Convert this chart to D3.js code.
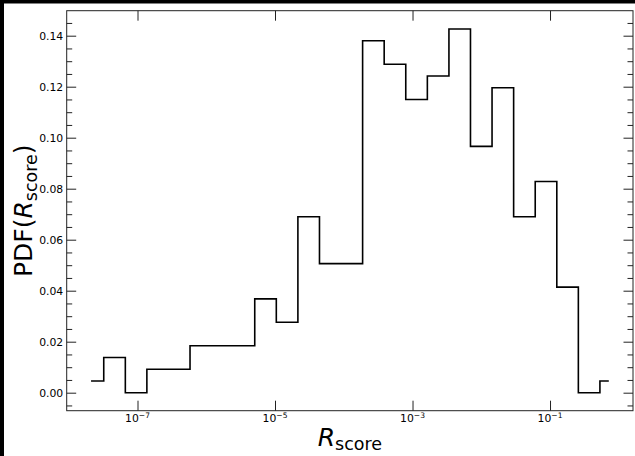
<!DOCTYPE html>
<html>
<head>
<meta charset="utf-8">
<script src="https://cdn.jsdelivr.net/npm/d3@7"></script>
<style>
  html, body { margin: 0; padding: 0; background: #000; }
  svg { display: block; }
  text { font-family: "DejaVu Sans", sans-serif; fill: #000; }
</style>
</head>
<body>
<svg id="chart" width="635" height="456"></svg>
<script>
// Histogram of R_score: log10 of the bin centres and the PDF value of each bin
const logCenters = [-7.676, -7.362, -7.048, -6.735, -6.421, -6.107, -5.793, -5.479,
                    -5.166, -4.852, -4.538, -4.224, -3.910, -3.597, -3.283, -2.969,
                    -2.655, -2.341, -2.028, -1.714, -1.400, -1.086, -0.772, -0.459, -0.145];
const pdfValues = [0.0046, 0.0138, 0.0000, 0.0092, 0.0092, 0.0184, 0.0184, 0.0184,
                   0.0368, 0.0276, 0.0690, 0.0506, 0.0506, 0.1380, 0.1288, 0.1150,
                   0.1242, 0.1426, 0.0966, 0.1196, 0.0690, 0.0828, 0.0414, 0.0000, 0.0046];

// Axis ticks
const yMajorTicks = [0.00, 0.02, 0.04, 0.06, 0.08, 0.10, 0.12, 0.14];
const yMajorLabels = ["0.00", "0.02", "0.04", "0.06", "0.08", "0.10", "0.12", "0.14"];
const yMinorTicks = [-0.005, 0.005, 0.010, 0.015, 0.025, 0.030, 0.035, 0.045, 0.050, 0.055,
                     0.065, 0.070, 0.075, 0.085, 0.090, 0.095, 0.105, 0.110, 0.115,
                     0.125, 0.130, 0.135, 0.145];
const xTickExponents = [-7, -5, -3, -1];

const W = 635, H = 456;
const plot = { left: 66.7, right: 633, top: 10.7, bottom: 410.7 };
const majorLen = 9.5, minorLen = 5.5;
const tickFont = 10.8, labelFont = 25;

const svg = d3.select("#chart");
svg.append("rect").attr("width", W).attr("height", H).attr("fill", "#000");
svg.append("rect").attr("x", 4).attr("y", 3.5).attr("width", W).attr("height", H).attr("fill", "#fff");

const x = d3.scaleLog()
  .domain([Math.pow(10, -8.03), Math.pow(10, 0.207)])
  .range([plot.left, plot.right]);
const y = d3.scaleLinear()
  .domain([-0.00706, 0.1498])
  .range([plot.bottom, plot.top]);

// Step curve with transitions halfway between bin centres (in data space)
const centers = logCenters.map(e => Math.pow(10, e));
const n = centers.length;
const pts = [[centers[0], pdfValues[0]]];
for (let i = 0; i < n - 1; i++) {
  const m = (centers[i] + centers[i + 1]) / 2;
  pts.push([m, pdfValues[i]]);
  pts.push([m, pdfValues[i + 1]]);
}
pts.push([centers[n - 1], pdfValues[n - 1]]);

const line = d3.line().x(d => x(d[0])).y(d => y(d[1]));
svg.append("path")
  .attr("d", line(pts))
  .attr("fill", "none")
  .attr("stroke", "#000")
  .attr("stroke-width", 1.6)
  .attr("stroke-linejoin", "miter");

// Inward ticks on all four sides
function styleAxis(g) {
  g.select(".domain").remove();
  g.selectAll(".tick line").attr("stroke", "#222").attr("stroke-width", 1);
  g.selectAll(".tick text").attr("font-family", "DejaVu Sans").attr("font-size", tickFont).attr("fill", "#000");
}

svg.append("g")
  .attr("transform", `translate(${plot.left},0)`)
  .call(d3.axisLeft(y).tickValues(yMajorTicks).tickSize(-majorLen).tickPadding(3.5)
        .tickFormat((d, i) => yMajorLabels[i]))
  .call(styleAxis);
svg.append("g")
  .attr("transform", `translate(${plot.left},0)`)
  .call(d3.axisLeft(y).tickValues(yMinorTicks).tickSize(-minorLen).tickFormat(""))
  .call(styleAxis);
svg.append("g")
  .attr("transform", `translate(${plot.right},0)`)
  .call(d3.axisRight(y).tickValues(yMajorTicks).tickSize(-majorLen).tickFormat(""))
  .call(styleAxis);
svg.append("g")
  .attr("transform", `translate(${plot.right},0)`)
  .call(d3.axisRight(y).tickValues(yMinorTicks).tickSize(-minorLen).tickFormat(""))
  .call(styleAxis);

const xTicks = xTickExponents.map(e => Math.pow(10, e));
svg.append("g")
  .attr("transform", `translate(0,${plot.bottom})`)
  .call(d3.axisBottom(x).tickValues(xTicks).tickSize(-majorLen - 0.5).tickFormat(""))
  .call(styleAxis);
svg.append("g")
  .attr("transform", `translate(0,${plot.top})`)
  .call(d3.axisTop(x).tickValues(xTicks).tickSize(-majorLen - 0.5).tickFormat(""))
  .call(styleAxis);

// x tick labels as 10^k with superscript exponent
xTickExponents.forEach(e => {
  const t = svg.append("text")
    .attr("x", x(Math.pow(10, e)))
    .attr("y", plot.bottom + 11.5)
    .attr("text-anchor", "middle")
    .attr("font-size", tickFont);
  t.append("tspan").text("10");
  t.append("tspan").attr("font-size", tickFont * 0.7).attr("dy", -4.6).text("\u2212" + Math.abs(e));
});

// Frame
svg.append("rect")
  .attr("x", plot.left).attr("y", plot.top)
  .attr("width", plot.right - plot.left).attr("height", plot.bottom - plot.top)
  .attr("fill", "none").attr("stroke", "#222").attr("stroke-width", 1);

// Axis titles
const cx = (plot.left + plot.right) / 2;
const xl = svg.append("text")
  .attr("x", cx).attr("y", 445.5)
  .attr("text-anchor", "middle")
  .attr("font-size", labelFont);
xl.append("tspan").attr("font-style", "italic").text("R");
xl.append("tspan").attr("font-size", labelFont * 0.7).attr("dy", 4.5).text("score");

const cy = (plot.top + plot.bottom) / 2;
const yl = svg.append("text")
  .attr("transform", `translate(32,${cy}) rotate(-90)`)
  .attr("text-anchor", "middle")
  .attr("font-size", labelFont);
yl.append("tspan").text("PDF(");
yl.append("tspan").attr("font-style", "italic").text("R");
yl.append("tspan").attr("font-size", labelFont * 0.7).attr("dy", 4.5).text("score");
yl.append("tspan").attr("dy", -4.5).text(")");
</script>
</body>
</html>
